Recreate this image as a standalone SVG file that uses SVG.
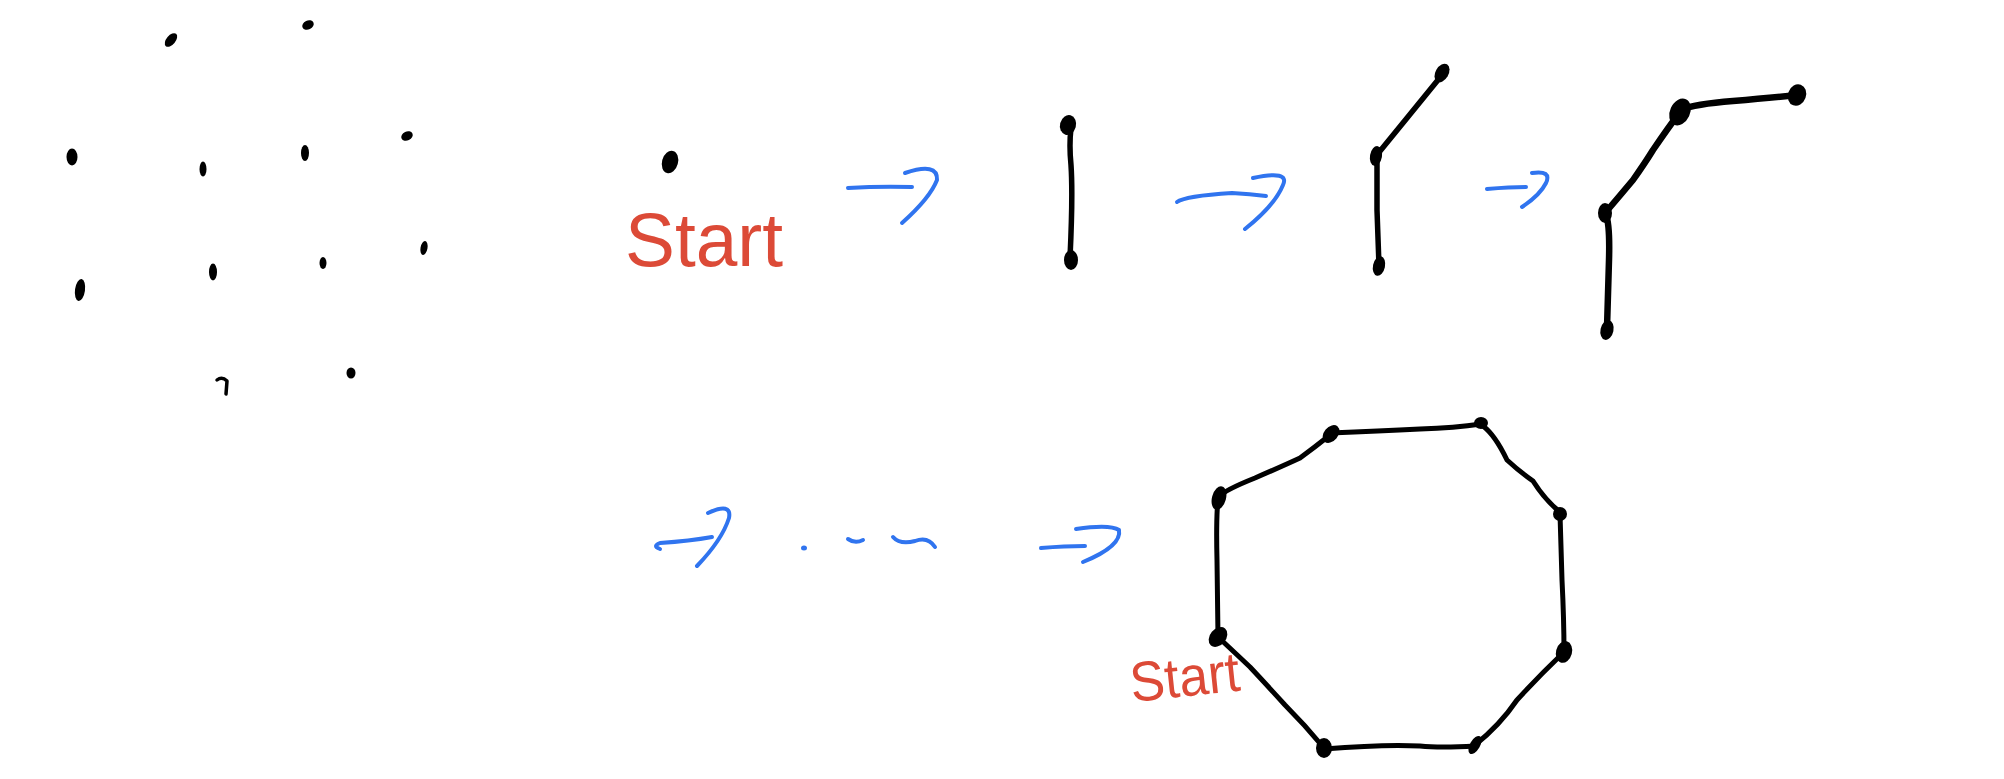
<svg xmlns="http://www.w3.org/2000/svg" width="2004" height="779" viewBox="0 0 2004 779">
<style>
.dot{fill:#000}
.edge{fill:none;stroke:#000;stroke-linecap:round;stroke-linejoin:round}
.arrow{fill:none;stroke:#3074ef;stroke-width:4;stroke-linecap:round;stroke-linejoin:round}
.label{fill:#dc4a37;font-family:"Liberation Sans",Arial,sans-serif}
</style>
<rect width="2004" height="779" fill="#fff"/>
<!-- scattered points -->
<g id="points">
<ellipse class="dot" cx="171" cy="40" rx="4.5" ry="8" transform="rotate(40 171 40)"/>
<ellipse class="dot" cx="308" cy="25" rx="6" ry="4.5" transform="rotate(-25 308 25)"/>
<ellipse class="dot" cx="72" cy="157" rx="5.5" ry="8.5"/>
<ellipse class="dot" cx="203" cy="169" rx="3.5" ry="7.5"/>
<ellipse class="dot" cx="305" cy="153" rx="4" ry="8"/>
<ellipse class="dot" cx="407" cy="136" rx="6" ry="4.5" transform="rotate(-25 407 136)"/>
<ellipse class="dot" cx="80" cy="290" rx="5" ry="11" transform="rotate(8 80 290)"/>
<ellipse class="dot" cx="213" cy="272" rx="4" ry="8.5"/>
<ellipse class="dot" cx="323" cy="263" rx="3.5" ry="6"/>
<ellipse class="dot" cx="424" cy="248" rx="3.5" ry="7" transform="rotate(10 424 248)"/>
<path class="edge" stroke-width="3.5" d="M217 380 Q222 376 227 381 L226 394"/>
<ellipse class="dot" cx="351" cy="373" rx="4.5" ry="5.5"/>
</g>
<!-- connectors (blue transition arrows and graph edges) -->
<g id="connectors">
<path class="arrow" d="M848 188 Q880 186 912 187"/>
<path class="arrow" d="M905 173 Q938 162 937 180 Q930 198 902 223"/>
<path class="arrow" d="M1177 202 Q1185 196 1232 193 Q1250 194 1266 196"/>
<path class="arrow" d="M1253 178 Q1290 170 1283 185 Q1275 205 1245 229"/>
<path class="arrow" d="M1487 189 Q1510 187 1526 187"/>
<path class="arrow" d="M1532 173 Q1552 170 1546 183 Q1540 195 1522 207"/>
<path class="arrow" d="M660 549 Q652 546 660 543 Q690 541 712 537"/>
<path class="arrow" d="M708 513 Q732 502 729 518 Q722 540 697 566"/>
<ellipse cx="804" cy="548" rx="3" ry="2.5" fill="#3074ef"/>
<path class="arrow" d="M848 539 Q855 544 863 540"/>
<path class="arrow" d="M893 537 Q900 545 915 541 Q928 536 935 547"/>
<path class="arrow" d="M1041 548 Q1065 546 1085 546"/>
<path class="arrow" d="M1076 529 Q1110 524 1119 530 Q1122 546 1083 562"/>
<path class="edge" stroke-width="5.5" d="M1071 128 Q1069 145 1071 165 Q1073 195 1070 258"/>
<path class="edge" stroke-width="5.5" d="M1376 156 L1407 118 Q1420 102 1442 75"/>
<path class="edge" stroke-width="5.5" d="M1377 158 L1377 210 L1379 266"/>
<path class="edge" stroke-width="6.5" d="M1605 213 Q1612 205 1633 180 Q1645 163 1653 150 Q1668 128 1680 112"/>
<path class="edge" stroke-width="6.5" d="M1606 215 Q1610 225 1609 260 L1607 328"/>
<path class="edge" stroke-width="6.5" d="M1680 110 Q1695 104 1733 101 Q1770 98 1797 95"/>
<path class="edge" stroke-width="5" d="M1218 637 L1217 560 Q1216 520 1218 498"/>
<path class="edge" stroke-width="5" d="M1220 496 Q1225 490 1255 478 Q1285 465 1300 458 Q1315 447 1330 435"/>
<path class="edge" stroke-width="5" d="M1330 433 Q1380 431 1420 429 Q1455 428 1481 424"/>
<path class="edge" stroke-width="5" d="M1483 426 Q1495 435 1507 460 Q1520 472 1533 481 Q1545 500 1560 512"/>
<path class="edge" stroke-width="5" d="M1560 514 L1562 580 Q1564 620 1564 652"/>
<path class="edge" stroke-width="5" d="M1562 654 Q1540 675 1517 700 Q1500 725 1475 745"/>
<path class="edge" stroke-width="5" d="M1475 746 Q1440 748 1420 746 Q1385 744 1324 749"/>
<path class="edge" stroke-width="5" d="M1324 748 Q1305 725 1285 705 Q1265 683 1250 667 Q1232 650 1218 637"/>
</g>
<!-- stage 1 -->
<g id="stage1">
<ellipse id="s1-start" class="dot" cx="670" cy="162" rx="8" ry="11.5" transform="rotate(15 670 162)"/>
<text class="label" x="625" y="266" font-size="76" textLength="158" lengthAdjust="spacingAndGlyphs">Start</text>
</g>
<!-- stage 2 -->
<g id="stage2">
<ellipse id="s2-a" class="dot" cx="1068" cy="125" rx="8" ry="10" transform="rotate(15 1068 125)"/>
<ellipse id="s2-b" class="dot" cx="1071" cy="260" rx="7" ry="10"/>
</g>
<!-- stage 3 -->
<g id="stage3">
<ellipse id="s3-a" class="dot" cx="1442" cy="73" rx="6.5" ry="10" transform="rotate(30 1442 73)"/>
<ellipse id="s3-b" class="dot" cx="1376" cy="156" rx="6" ry="10" transform="rotate(10 1376 156)"/>
<ellipse id="s3-c" class="dot" cx="1379" cy="266" rx="6" ry="10" transform="rotate(12 1379 266)"/>
</g>
<!-- stage 4 -->
<g id="stage4">
<ellipse id="s4-a" class="dot" cx="1797" cy="95" rx="9" ry="11" transform="rotate(20 1797 95)"/>
<ellipse id="s4-b" class="dot" cx="1680" cy="112" rx="10" ry="14" transform="rotate(25 1680 112)"/>
<ellipse id="s4-c" class="dot" cx="1605" cy="213" rx="7" ry="10"/>
<ellipse id="s4-d" class="dot" cx="1607" cy="330" rx="6.5" ry="10" transform="rotate(12 1607 330)"/>
</g>
<!-- final cycle -->
<g id="cycle">
<ellipse id="c-a" class="dot" cx="1218" cy="637" rx="8" ry="11" transform="rotate(40 1218 637)"/>
<ellipse id="c-b" class="dot" cx="1219" cy="498" rx="7" ry="12" transform="rotate(15 1219 498)"/>
<ellipse id="c-c" class="dot" cx="1331" cy="434" rx="7" ry="10" transform="rotate(40 1331 434)"/>
<ellipse id="c-d" class="dot" cx="1481" cy="423" rx="7" ry="6"/>
<ellipse id="c-e" class="dot" cx="1560" cy="514" rx="7" ry="7"/>
<ellipse id="c-f" class="dot" cx="1564" cy="652" rx="8" ry="11" transform="rotate(15 1564 652)"/>
<ellipse id="c-g" class="dot" cx="1475" cy="745" rx="5" ry="10" transform="rotate(30 1475 745)"/>
<ellipse id="c-h" class="dot" cx="1324" cy="748" rx="8" ry="10"/>
<text class="label" x="0" y="0" font-size="56" textLength="110" lengthAdjust="spacingAndGlyphs" transform="translate(1132 702) rotate(-6)">Start</text>
</g>
</svg>
